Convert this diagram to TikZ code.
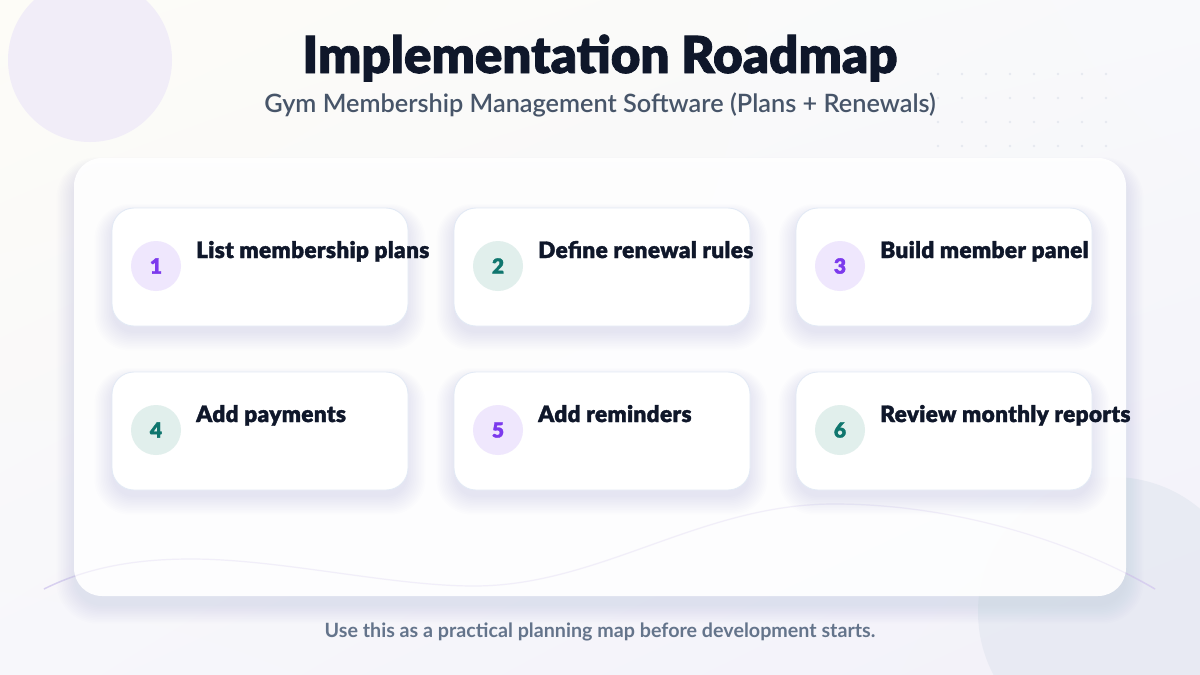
\documentclass[tikz,border=0pt]{standalone}
\usepackage{fontspec}
\setmainfont{Lato}
\newfontfamily\heavy{Lato Black}[FakeBold=1.6]
\newfontfamily\heavylab{Lato Black}[FakeBold=1.5, LetterSpace=1.5]
\newfontfamily\medium{Lato Semibold}
\newfontfamily\footfont{Lato Bold}
\usetikzlibrary{calc,shadings}
\definecolor{bgA}{HTML}{FDFCF7}
\definecolor{bgB}{HTML}{F8F9FB}
\definecolor{bgC}{HTML}{F7F7FB}
\definecolor{bgD}{HTML}{F2F1F9}
\definecolor{blobA}{HTML}{F1EDF8}
\definecolor{blobB}{HTML}{E6E9F2}
\definecolor{dotc}{HTML}{E6E9EF}
\definecolor{wavec}{HTML}{D8D0F0}
\definecolor{titlec}{HTML}{0F172A}
\definecolor{subc}{HTML}{475569}
\definecolor{footc}{HTML}{64748B}
\definecolor{cardline}{HTML}{E3EAF5}
\definecolor{shadc}{HTML}{5A6690}
\definecolor{purp}{HTML}{7C3AED}
\definecolor{purpbg}{HTML}{EFE7FD}
\definecolor{teal}{HTML}{0F766E}
\definecolor{tealbg}{HTML}{E1EFEC}
\newcommand\softshadow[7]{% x1 y1 x2 y2 radius offset opacity
  \foreach \k in {0,...,11}{
    \fill[shadc, opacity=#7, rounded corners=#5+\k*1.2]
      (#1-\k*1.6, #2+#6-\k*1.0) rectangle (#3+\k*1.6, #4+#6+\k*1.6);
  }}
\newcommand\wavepath{(44,589) .. controls (90,566) and (140,559) .. (191,559)
  .. controls (280,559) and (390,586) .. (474,586)
  .. controls (600,586) and (700,504) .. (834,504)
  .. controls (960,504) and (1080,545) .. (1155,589)}
\tikzset{
  card/.style={draw=cardline, line width=0.9pt, fill=white, rounded corners=22pt,
    minimum width=296pt, minimum height=118pt, inner sep=0pt},
  numc/.style={circle, minimum size=50pt, inner sep=0pt, font=\heavy\fontsize{21}{21}\selectfont},
  pnum/.style={numc, fill=purpbg, text=purp},
  tnum/.style={numc, fill=tealbg, text=teal},
  lab/.style={anchor=base west, inner sep=0pt, text=titlec, font=\heavylab\fontsize{22.6}{22.6}\selectfont},
}
\begin{document}
\begin{tikzpicture}[x=1pt,y=-1pt]
\useasboundingbox (0,0) rectangle (1200,675);
% background
\shade[upper left=bgA, upper right=bgB, lower left=bgC, lower right=bgD] (0,0) rectangle (1200,675);
\fill[blobA] (90,60) circle (82);
\fill[blobB, opacity=0.8] (1113,612) circle (135);
\foreach \x in {938,962,...,1106}
  \foreach \y in {74,98,122,146}
    \fill[dotc] (\x,\y) circle (1.3);
% wave
\draw[wavec, line width=1.4pt] \wavepath;
% title
\node[anchor=base, text=titlec, font=\heavy\fontsize{51}{51}\selectfont, inner sep=0pt] (title) at (600,73) {Implementation Roadmap};
\node[anchor=base, text=subc, font=\medium\fontsize{25.3}{25.3}\selectfont, inner sep=0pt] (sub) at (600,112) {Gym Membership Management Software (Plans + Renewals)};
% panel
\softshadow{74}{158}{1126}{596}{28}{10}{0.009}
\fill[white, fill opacity=0.94, rounded corners=28pt] (74,158) rectangle (1126,596);
\node[inner sep=0pt, minimum width=1052pt, minimum height=438pt] (panel) at (600,377) {};
\draw[wavec, line width=1.2pt, opacity=0.3] \wavepath;
% card shadows
\foreach \cx in {112,454,796}
  \foreach \cy in {208,372}
    {\softshadow{\cx}{\cy}{\cx+296}{\cy+118}{22}{7}{0.007}}
% cards
\node[card] (c1) at (260,267) {};
\node[card] (c2) at (602,267) {};
\node[card] (c3) at (944,267) {};
\node[card] (c4) at (260,431) {};
\node[card] (c5) at (602,431) {};
\node[card] (c6) at (944,431) {};
% numbers
\node[pnum] (n1) at (156,266) {1};
\node[tnum] (n2) at (498,266) {2};
\node[pnum] (n3) at (840,266) {3};
\node[tnum] (n4) at (156,430) {4};
\node[pnum] (n5) at (498,430) {5};
\node[tnum] (n6) at (840,430) {6};
% labels
\node[lab] (l1) at (196,258) {List membership plans};
\node[lab] (l2) at (538,258) {Define renewal rules};
\node[lab] (l3) at (880,258) {Build member panel};
\node[lab] (l4) at (196,422) {Add payments};
\node[lab] (l5) at (538,422) {Add reminders};
\node[lab] (l6) at (880,422) {Review monthly reports};
% footer
\node[anchor=base, text=footc, font=\footfont\fontsize{19.7}{19.7}\selectfont, inner sep=0pt] (foot) at (600,637) {Use this as a practical planning map before development starts.};
\end{tikzpicture}
\end{document}
